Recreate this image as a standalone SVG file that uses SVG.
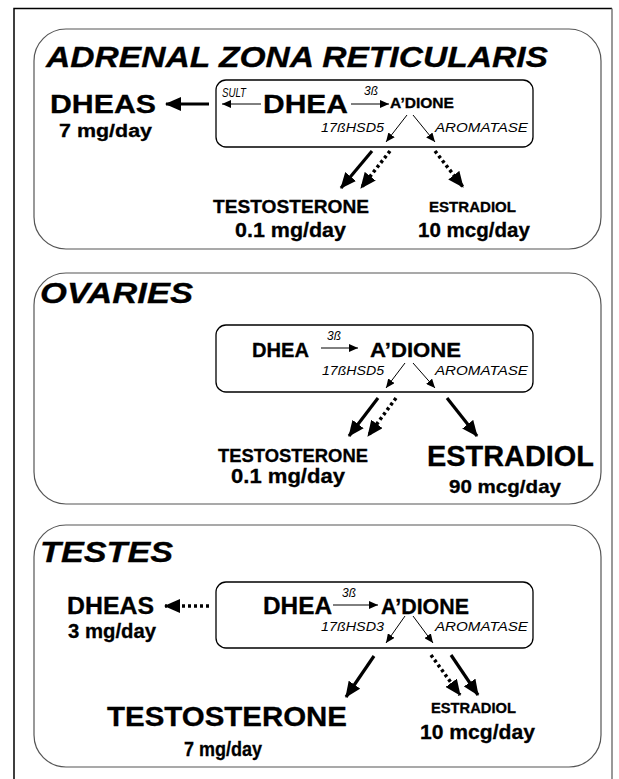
<svg xmlns="http://www.w3.org/2000/svg" width="619" height="779" viewBox="0 0 619 779">
<style>
text{font-family:"Liberation Sans",Arial,Helvetica,sans-serif;fill:#000}
.b{font-weight:bold;stroke:#000;stroke-width:0.3}
.bi{font-weight:bold;font-style:italic;stroke:#000;stroke-width:0.3}
.i{font-style:italic}
.panel{fill:#fff;stroke:#555;stroke-width:1.2}
.box{fill:#fff;stroke:#000;stroke-width:1.3}
.thin{stroke:#000;stroke-width:1;fill:none}
.thick{stroke:#000;stroke-width:3.2;fill:none}
.dot{stroke:#000;stroke-width:3.5;fill:none;stroke-dasharray:3 3}
</style>
<defs>
<marker id="big" markerUnits="userSpaceOnUse" markerWidth="16" markerHeight="14" refX="15" refY="7" orient="auto"><path d="M0,0 L16,7 L0,14 z" fill="#000"/></marker>
<marker id="small" markerUnits="userSpaceOnUse" markerWidth="9" markerHeight="8" refX="9" refY="4" orient="auto"><path d="M0,0 L9,4 L0,8 z" fill="#000"/></marker>
</defs>
<rect x="0" y="0" width="619" height="779" fill="#fff"/>
<path d="M14,790 V8.5 H612" fill="none" stroke="#000" stroke-width="1.5"/>
<path d="M612,8.5 V790" fill="none" stroke="#777" stroke-width="1.5"/>

<g id="panel-adrenal">
<rect class="panel" x="34" y="29" width="567" height="220" rx="32"/>
<text class="bi" x="46" y="67" font-size="29" textLength="502" lengthAdjust="spacingAndGlyphs">ADRENAL ZONA RETICULARIS</text>
</g>
<g id="box-adrenal">
<rect class="box" x="216" y="80" width="317" height="67" rx="10"/>
<text class="i" x="222" y="97" font-size="12" textLength="24" lengthAdjust="spacingAndGlyphs">SULT</text>
<text class="b" x="263" y="113" font-size="26.5" textLength="85" lengthAdjust="spacingAndGlyphs">DHEA</text>
<text class="i" x="364" y="95" font-size="12">3ß</text>
<text class="b" x="390" y="108" font-size="14" textLength="64" lengthAdjust="spacingAndGlyphs">A’DIONE</text>
<text class="i" x="321" y="132" font-size="12.5" textLength="63" lengthAdjust="spacingAndGlyphs">17ßHSD5</text>
<text class="i" x="435" y="132" font-size="12.5" textLength="93" lengthAdjust="spacingAndGlyphs">AROMATASE</text>
</g>
<g id="dheas-adrenal">
<text class="b" x="50" y="113" font-size="26.5" textLength="106" lengthAdjust="spacingAndGlyphs">DHEAS</text>
<text class="b" x="59" y="137" font-size="18" textLength="93" lengthAdjust="spacingAndGlyphs">7 mg/day</text>
</g>
<g id="testo-adrenal">
<text class="b" x="213" y="213" font-size="18" textLength="156" lengthAdjust="spacingAndGlyphs">TESTOSTERONE</text>
<text class="b" x="235" y="237" font-size="21" textLength="111" lengthAdjust="spacingAndGlyphs">0.1 mg/day</text>
</g>
<g id="estra-adrenal">
<text class="b" x="429" y="212" font-size="14" textLength="87" lengthAdjust="spacingAndGlyphs">ESTRADIOL</text>
<text class="b" x="418" y="237" font-size="21" textLength="112" lengthAdjust="spacingAndGlyphs">10 mcg/day</text>
</g>

<g id="panel-ovaries">
<rect class="panel" x="34" y="273" width="567" height="231" rx="32"/>
<text class="bi" x="40" y="303" font-size="29" textLength="153" lengthAdjust="spacingAndGlyphs">OVARIES</text>
</g>
<g id="box-ovaries">
<rect class="box" x="216" y="325" width="317" height="67" rx="10"/>
<text class="b" x="252" y="357" font-size="21" textLength="57" lengthAdjust="spacingAndGlyphs">DHEA</text>
<text class="i" x="327" y="340" font-size="12">3ß</text>
<text class="b" x="370" y="357" font-size="21" textLength="91" lengthAdjust="spacingAndGlyphs">A’DIONE</text>
<text class="i" x="322" y="375" font-size="12.5" textLength="62" lengthAdjust="spacingAndGlyphs">17ßHSD5</text>
<text class="i" x="435" y="375" font-size="12.5" textLength="93" lengthAdjust="spacingAndGlyphs">AROMATASE</text>
</g>
<g id="testo-ovaries">
<text class="b" x="218" y="462" font-size="18" textLength="150" lengthAdjust="spacingAndGlyphs">TESTOSTERONE</text>
<text class="b" x="231" y="483" font-size="21" textLength="114" lengthAdjust="spacingAndGlyphs">0.1 mg/day</text>
</g>
<g id="estra-ovaries">
<text class="b" x="427" y="466" font-size="30" textLength="167" lengthAdjust="spacingAndGlyphs">ESTRADIOL</text>
<text class="b" x="449" y="493" font-size="19" textLength="112" lengthAdjust="spacingAndGlyphs">90 mcg/day</text>
</g>

<g id="panel-testes">
<rect class="panel" x="34" y="525" width="567" height="242" rx="32"/>
<text class="bi" x="40" y="562" font-size="29" textLength="133" lengthAdjust="spacingAndGlyphs">TESTES</text>
</g>
<g id="box-testes">
<rect class="box" x="216" y="582" width="317" height="66" rx="10"/>
<text class="b" x="263" y="614" font-size="24" textLength="69" lengthAdjust="spacingAndGlyphs">DHEA</text>
<text class="i" x="342" y="597" font-size="12">3ß</text>
<text class="b" x="381" y="614" font-size="22" textLength="88" lengthAdjust="spacingAndGlyphs">A’DIONE</text>
<text class="i" x="321" y="631" font-size="12.5" textLength="63" lengthAdjust="spacingAndGlyphs">17ßHSD3</text>
<text class="i" x="435" y="631" font-size="12.5" textLength="93" lengthAdjust="spacingAndGlyphs">AROMATASE</text>
</g>
<g id="dheas-testes">
<text class="b" x="67" y="614" font-size="23" textLength="87" lengthAdjust="spacingAndGlyphs">DHEAS</text>
<text class="b" x="68" y="638" font-size="20" textLength="88" lengthAdjust="spacingAndGlyphs">3 mg/day</text>
</g>
<g id="testo-testes">
<text class="b" x="107" y="726" font-size="28" textLength="240" lengthAdjust="spacingAndGlyphs">TESTOSTERONE</text>
<text class="b" x="184" y="756" font-size="20" textLength="78" lengthAdjust="spacingAndGlyphs">7 mg/day</text>
</g>
<g id="estra-testes">
<text class="b" x="431" y="713" font-size="14" textLength="85" lengthAdjust="spacingAndGlyphs">ESTRADIOL</text>
<text class="b" x="420" y="739" font-size="21" textLength="115" lengthAdjust="spacingAndGlyphs">10 mcg/day</text>
</g>

<g id="connectors">
<line class="thick" x1="209" y1="104" x2="166" y2="104" marker-end="url(#big)"/>
<line class="thin" x1="261" y1="104" x2="222" y2="104" marker-end="url(#small)"/>
<line class="thin" x1="351" y1="104" x2="389" y2="104" marker-end="url(#small)"/>
<line class="thin" x1="407" y1="115" x2="386" y2="142" marker-end="url(#small)"/>
<line class="thin" x1="413" y1="115" x2="435" y2="142" marker-end="url(#small)"/>
<line class="thick" x1="372" y1="151" x2="341" y2="188" marker-end="url(#big)"/>
<line class="dot" x1="390" y1="151" x2="361" y2="188" marker-end="url(#big)"/>
<line class="dot" x1="435" y1="151" x2="463" y2="187" marker-end="url(#big)"/>

<line class="thin" x1="321" y1="348" x2="358" y2="348" marker-end="url(#small)"/>
<line class="thin" x1="405" y1="363" x2="386" y2="388" marker-end="url(#small)"/>
<line class="thin" x1="413" y1="363" x2="435" y2="388" marker-end="url(#small)"/>
<line class="thick" x1="378" y1="398" x2="349" y2="436" marker-end="url(#big)"/>
<line class="dot" x1="396" y1="398" x2="368" y2="436" marker-end="url(#big)"/>
<line class="thick" x1="447" y1="398" x2="477" y2="436" marker-end="url(#big)"/>

<line class="dot" x1="209" y1="606" x2="165" y2="606" marker-end="url(#big)"/>
<line class="thin" x1="333" y1="605" x2="378" y2="605" marker-end="url(#small)"/>
<line class="thin" x1="405" y1="616" x2="386" y2="643" marker-end="url(#small)"/>
<line class="thin" x1="413" y1="616" x2="433" y2="643" marker-end="url(#small)"/>
<line class="thick" x1="374" y1="656" x2="346" y2="697" marker-end="url(#big)"/>
<line class="dot" x1="431" y1="655" x2="460" y2="695" marker-end="url(#big)"/>
<line class="thick" x1="451" y1="655" x2="478" y2="695" marker-end="url(#big)"/>
</g>
</svg>
